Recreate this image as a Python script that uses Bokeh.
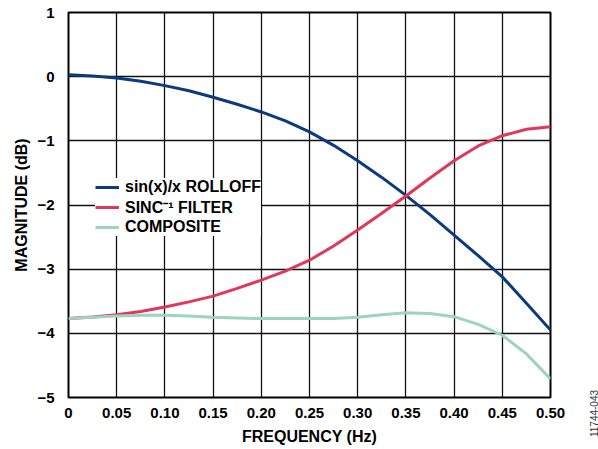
import math
from bokeh.plotting import figure
from bokeh.models import (Legend, LegendItem, FixedTicker, CustomJSTickFormatter,
                          Label, Range1d)
from bokeh.embed import file_html
from bokeh.resources import INLINE

# ---- data ----
freq = [0.0, 0.025, 0.05, 0.075, 0.10, 0.125, 0.15, 0.175, 0.20, 0.225, 0.25,
        0.275, 0.30, 0.325, 0.35, 0.375, 0.40, 0.425, 0.45, 0.475, 0.50]
sinx_rolloff = [0.03, 0.01, -0.02, -0.07, -0.14, -0.22, -0.32, -0.43, -0.55, -0.69, -0.86,
                -1.07, -1.31, -1.57, -1.85, -2.15, -2.47, -2.79, -3.12, -3.53, -3.95]
sinc_inv_filter = [-3.77, -3.745, -3.71, -3.66, -3.59, -3.51, -3.42, -3.30, -3.17, -3.03, -2.86,
                   -2.64, -2.39, -2.13, -1.86, -1.58, -1.31, -1.08, -0.92, -0.82, -0.78]
composite = [-3.77, -3.75, -3.73, -3.72, -3.72, -3.73, -3.75, -3.76, -3.77, -3.77, -3.77,
             -3.77, -3.75, -3.71, -3.68, -3.69, -3.74, -3.86, -4.03, -4.32, -4.71]

series_names = ["sin(x)/x ROLLOFF", "SINC\u207b\u00b9 FILTER", "COMPOSITE"]

x_ticks = [0.0, 0.05, 0.10, 0.15, 0.20, 0.25, 0.30, 0.35, 0.40, 0.45, 0.50]
x_tick_labels = ["0", "0.05", "0.10", "0.15", "0.20", "0.25", "0.30", "0.35", "0.40", "0.45", "0.50"]
y_ticks = [-5, -4, -3, -2, -1, 0, 1]
y_tick_labels = ["\u22125", "\u22124", "\u22123", "\u22122", "\u22121", "0", "1"]

x_title = "FREQUENCY (Hz)"
y_title = "MAGNITUDE (dB)"
figure_id = "11744-043"

# ---- style ----
FONT = "Liberation Sans"
BLUE = "#0c3a7f"
RED = "#e2375c"
GREEN = "#9dd4bc"

p = figure(width=598, height=449, output_backend="svg", toolbar_location=None,
           x_range=Range1d(0, 0.5), y_range=Range1d(-5, 1),
           min_border_left=68, min_border_right=48, min_border_top=12, min_border_bottom=52)

p.background_fill_color = "white"
p.border_fill_color = "white"
p.outline_line_color = "black"
p.outline_line_width = 2

r1 = p.line(freq, sinx_rolloff, line_color=BLUE, line_width=3)
r2 = p.line(freq, sinc_inv_filter, line_color=RED, line_width=3)
r3 = p.line(freq, composite, line_color=GREEN, line_width=3)

def fmt(tick_vals, labels):
    return CustomJSTickFormatter(args=dict(tv=tick_vals, lb=labels), code="""
        const i = tv.findIndex(t => Math.abs(t - tick) < 1e-9);
        return i >= 0 ? lb[i] : "";
    """)

p.xaxis.ticker = FixedTicker(ticks=x_ticks)
p.yaxis.ticker = FixedTicker(ticks=y_ticks)
p.xaxis.formatter = fmt(x_ticks, x_tick_labels)
p.yaxis.formatter = fmt(y_ticks, y_tick_labels)

for ax in (p.xaxis[0], p.yaxis[0]):
    ax.axis_line_color = None
    ax.major_tick_line_color = None
    ax.minor_tick_line_color = None
    ax.major_label_text_font = FONT
    ax.major_label_text_font_style = "bold"
    ax.major_label_text_font_size = "15px"
    ax.major_label_text_color = "black"
    ax.axis_label_text_font = FONT
    ax.axis_label_text_font_style = "bold"
    ax.axis_label_text_font_size = "16px"
    ax.axis_label_text_color = "black"

p.xaxis.axis_label = x_title
p.yaxis.axis_label = y_title
p.xaxis.major_label_standoff = 4
p.xaxis.axis_label_standoff = 7
p.yaxis.major_label_standoff = 8
p.yaxis.axis_label_standoff = 4

p.xgrid.ticker = FixedTicker(ticks=x_ticks)
p.ygrid.ticker = FixedTicker(ticks=y_ticks)
for g in (p.xgrid[0], p.ygrid[0]):
    g.grid_line_color = "#111111"
    g.grid_line_width = 1.3

legend = Legend(items=[LegendItem(label=series_names[0], renderers=[r1]),
                       LegendItem(label=series_names[1], renderers=[r2]),
                       LegendItem(label=series_names[2], renderers=[r3])],
                location=(27, 161))
legend.background_fill_color = "white"
legend.background_fill_alpha = 1.0
legend.border_line_color = None
legend.padding = 5
legend.margin = 0
legend.spacing = 0
legend.label_height = 18
legend.glyph_height = 18
legend.glyph_width = 24
legend.label_standoff = 6
legend.label_text_font = FONT
legend.label_text_font_style = "bold"
legend.label_text_font_size = "16px"
legend.label_text_color = "black"
p.add_layout(legend, "center")

# figure id, placed in the right side panel so that it is not clipped to the frame
p.add_layout(Label(x=43, y=-16, x_units="screen", y_units="screen",
                   text=figure_id, angle=math.pi / 2,
                   text_font=FONT, text_font_size="10px", text_color="#333333",
                   text_align="center", text_baseline="middle"), "right")

open("out.html", "w").write(file_html(p, INLINE))
